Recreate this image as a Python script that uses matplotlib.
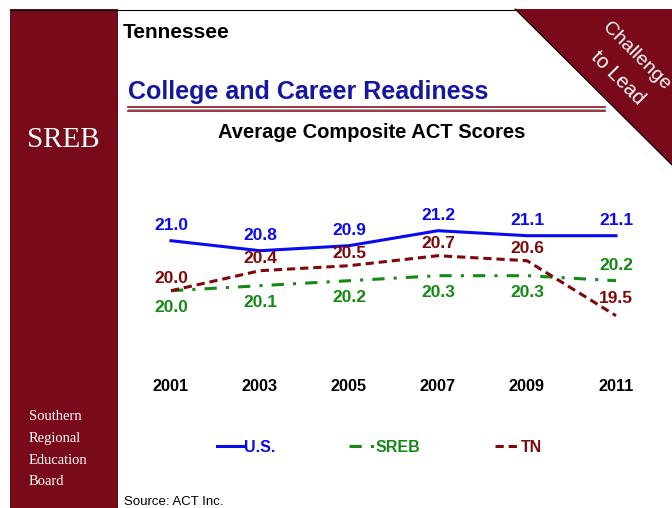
import matplotlib.pyplot as plt
from matplotlib.patches import Rectangle, Polygon
from matplotlib.lines import Line2D

plt.rcParams["font.family"] = ["Liberation Sans", "DejaVu Sans"]

W, H = 672, 508

years = [2001, 2003, 2005, 2007, 2009, 2011]
us = [21.0, 20.8, 20.9, 21.2, 21.1, 21.1]
sreb = [20.0, 20.1, 20.2, 20.3, 20.3, 20.2]
tn = [20.0, 20.4, 20.5, 20.7, 20.6, 19.5]

BLUE = "#0a0af0"
GREEN = "#138a13"
DARKRED = "#800808"
MAROON = "#790a19"


def px(x, y):
    # pixel position -> figure fraction
    return x / W, 1 - y / H


fig = plt.figure(figsize=(W / 100, H / 100), dpi=100)

# left sidebar
fig.patches.append(Rectangle(px(10, 508), 108 / W, 499 / H, transform=fig.transFigure,
                             facecolor=MAROON, edgecolor="none", zorder=0))
# top border
fig.lines.append(Line2D([10 / W, 515 / W], [1 - 9.5 / H] * 2, transform=fig.transFigure,
                        color="black", lw=0.8))
# corner triangle
tri = Polygon([px(515, 9), px(672, 9), px(672, 165)], closed=True, transform=fig.transFigure,
              facecolor=MAROON, edgecolor="none", zorder=1)
fig.patches.append(tri)
fig.lines.append(Line2D([515 / W, 672 / W], [1 - 9 / H, 1 - 165 / H], transform=fig.transFigure,
                        color="black", lw=0.8, zorder=2))
fig.text(*px(636, 56), "Challenge", color="white", fontsize=14, rotation=-45,
         ha="center", va="center", zorder=3)
fig.text(*px(618, 78), "to Lead", color="white", fontsize=14.5, rotation=-45,
         ha="center", va="center", zorder=3)

# sidebar text
fig.text(*px(27, 140), "SREB", color="white", fontsize=21, family="Liberation Serif",
         ha="left", va="center")
for i, word in enumerate(["Southern", "Regional", "Education", "Board"]):
    fig.text(*px(29, 417 + 21.5 * i), word, color="white", fontsize=10.5,
             family="Liberation Serif", ha="left", va="center")

# titles
fig.text(*px(123, 32), "Tennessee", fontsize=15, fontweight="bold", color="black",
         ha="left", va="center")
fig.text(*px(128, 92), "College and Career Readiness", fontsize=18, fontweight="bold",
         color="#1616a0", ha="left", va="center")
for y, c, lw in [(106.5, "#8a1424", 1.2), (108.5, "#b0b0b0", 0.8), (110.5, "#8a1424", 1.2)]:
    fig.lines.append(Line2D([128 / W, 605 / W], [1 - y / H] * 2, transform=fig.transFigure,
                            color=c, lw=lw))
fig.text(*px(372, 133), "Average Composite ACT Scores", fontsize=14.5, fontweight="bold",
         color="black", ha="center", va="center")
fig.text(*px(124, 502), "Source: ACT Inc.", fontsize=9.5, color="black",
         ha="left", va="center")

# chart
ax = fig.add_axes([130 / W, 1 - 370 / H, 530 / W, 170 / H])
ax.patch.set_visible(False)
ax.plot(years, us, color=BLUE, lw=2.2, label="U.S.")
ax.plot(years, sreb, color=GREEN, lw=2.2, dashes=(4, 3, 1, 3), label="SREB")
ax.plot(years, tn, color=DARKRED, lw=2.2, dashes=(2.7, 1.6), label="TN")

ax.set_xlim(2000.079, 2011.989)
ax.set_ylim(18.414, 21.814)
for s in ax.spines.values():
    s.set_visible(False)
ax.set_yticks([])
ax.set_xticks(years)
ax.set_xticklabels([str(y) for y in years], fontsize=11.7, fontweight="bold")
ax.tick_params(axis="x", length=0, pad=6.5)

lab = dict(fontsize=12.5, fontweight="bold", ha="center", va="center",
           textcoords="offset points")
for i, x in enumerate(years):
    ax.annotate(f"{us[i]:.1f}", (x, us[i]), xytext=(0, 11), color=BLUE, **lab)
    s_off = 11 if i == len(years) - 1 else -12
    ax.annotate(f"{sreb[i]:.1f}", (x, sreb[i]), xytext=(0, s_off), color=GREEN, **lab)
    t_off = 12.5 if i == len(years) - 1 else 8.5
    ax.annotate(f"{tn[i]:.1f}", (x, tn[i]), xytext=(0, t_off), color=DARKRED, **lab)

leg = ax.legend(loc="center left", bbox_to_anchor=px(203, 447), bbox_transform=fig.transFigure,
                ncol=3, frameon=False, handlelength=1.6, handletextpad=0.05,
                columnspacing=4.65, prop={"weight": "bold", "size": 11.5})
for txt, c in zip(leg.get_texts(), [BLUE, GREEN, DARKRED]):
    txt.set_color(c)

fig.savefig("out.png", dpi=100)
